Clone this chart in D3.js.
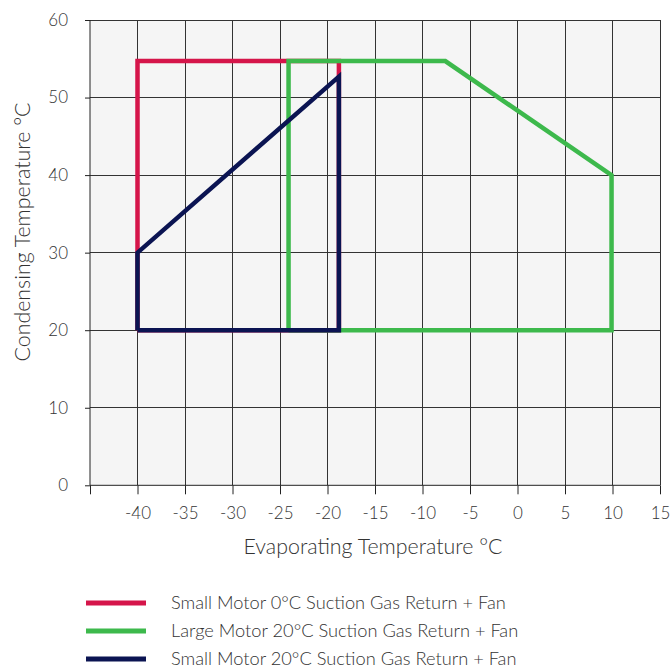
<!DOCTYPE html>
<html><head><meta charset="utf-8">
<script src="https://cdn.jsdelivr.net/npm/d3@7"></script>
<style>
body{margin:0;background:#fff;}
text{font-family:Lato, "Open Sans", sans-serif;font-weight:300;fill:#333;}
</style></head>
<body><svg id="c" width="670" height="668"></svg>
<script>
const xTicks = [-40,-35,-30,-25,-20,-15,-10,-5,0,5,10,15];
const yTicks = [0,10,20,30,40,50,60];
const seriesNames = ["Small Motor 0°C Suction Gas Return + Fan","Large Motor 20°C Suction Gas Return + Fan","Small Motor 20°C Suction Gas Return + Fan"];
const seriesColors = ["#d5154a","#3db94c","#0b1452"];
const redX = [-40,-40,-18.8,-18.8,-40];
const redY = [20,54.7,54.7,20,20];
const greenX = [-24.1,-24.1,-7.6,9.9,9.9,-24.1];
const greenY = [20,54.7,54.7,40,20,20];
const blueX = [-40,-40,-18.8,-18.8,-40];
const blueY = [20,30,52.7,20,20];

const svg = d3.select("#c");
const x = d3.scaleLinear().domain([-45,15]).range([90,660]);
const y = d3.scaleLinear().domain([0,60]).range([485.3,20]);

function fit(sel, target){
  const w = sel.node().getComputedTextLength();
  const fs = parseFloat(sel.style("font-size"));
  return fs*target/w;
}

svg.append("rect").attr("x",x(-45)).attr("y",y(60)).attr("width",x(15)-x(-45)).attr("height",y(0)-y(60)).attr("fill","#f5f5f5");

// grid
svg.append("g").selectAll("line").data(xTicks).join("line")
 .attr("x1",d=>x(d)).attr("x2",d=>x(d)).attr("y1",y(0)).attr("y2",y(60))
 .attr("stroke","#333").attr("stroke-width",1).attr("shape-rendering","crispEdges");
svg.append("g").selectAll("line").data(yTicks.filter(d=>d>0)).join("line")
 .attr("x1",x(-45)).attr("x2",x(15)).attr("y1",d=>y(d)).attr("y2",d=>y(d))
 .attr("stroke","#333").attr("stroke-width",1).attr("shape-rendering","crispEdges");

const xAxis = svg.append("g").attr("transform",`translate(0,${y(0)})`)
 .call(d3.axisBottom(x).tickValues([-45].concat(xTicks)).tickFormat(d=>d===-45?"":d).tickSize(9).tickPadding(13));
const yAxis = svg.append("g").attr("transform",`translate(${x(-45)},0)`)
 .call(d3.axisLeft(y).tickValues(yTicks).tickSize(5).tickPadding(17));
[xAxis,yAxis].forEach(a=>{
  a.select(".domain").remove();
  a.selectAll(".tick line").attr("stroke","#222");
  a.selectAll("text").attr("fill","#333").style("font-family","Lato, sans-serif").style("font-weight","300").style("font-size","18px");
});
const t40 = xAxis.selectAll(".tick text").filter(d=>d===-40);
const tfs = fit(t40, 26);
xAxis.selectAll("text").style("font-size",tfs+"px");
yAxis.selectAll("text").style("font-size",tfs+"px");
yAxis.append("line").attr("x1",0).attr("x2",0).attr("y1",y(0)).attr("y2",y(60)).attr("stroke","#222");
xAxis.append("line").attr("x1",x(-45)).attr("x2",x(15)).attr("y1",0).attr("y2",0).attr("stroke","#222");

const line = d3.line().x(d=>x(d[0])).y(d=>y(d[1]));
const series = [d3.zip(redX,redY), d3.zip(greenX,greenY), d3.zip(blueX,blueY)];
series.forEach((s,i)=>{
  svg.append("path").datum(s).attr("d",line).attr("fill","none")
   .attr("stroke",seriesColors[i]).attr("stroke-width",4.5).attr("stroke-linejoin","miter");
});

const xt = svg.append("text").attr("x",373).attr("y",554).attr("text-anchor","middle").style("font-size","18px").text("Evaporating Temperature °C");
xt.style("font-size", fit(xt,259)+"px");
const yt = svg.append("text").attr("transform","translate(30,232) rotate(-90)").attr("text-anchor","middle").style("font-size","18px").text("Condensing Temperature °C");
yt.style("font-size", fit(yt,259)+"px");

const lg = svg.append("g");
let lfs = null;
seriesNames.forEach((n,i)=>{
  const yy = 603 + i*28;
  lg.append("line").attr("x1",86).attr("x2",146).attr("y1",yy).attr("y2",yy).attr("stroke",seriesColors[i]).attr("stroke-width",5);
  const t = lg.append("text").attr("x",171).attr("y",yy+5.5).style("font-size","16px").text(n);
  if(i===0) lfs = fit(t,335);
});
lg.selectAll("text").style("font-size",lfs+"px");
</script></body></html>
